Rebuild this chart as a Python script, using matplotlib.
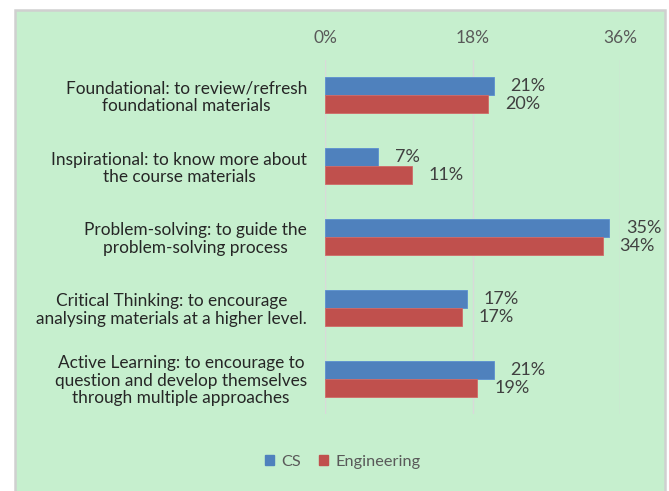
import matplotlib
matplotlib.use("Agg")
import matplotlib.pyplot as plt
from matplotlib.patches import Rectangle, Patch
import numpy as np

# data (percent)
categories = [
    "Foundational: to review/refresh\nfoundational materials",
    "Inspirational: to know more about\nthe course materials",
    "Problem-solving: to guide the\nproblem-solving process",
    "Critical Thinking: to encourage\nanalysing materials at a higher level.",
    "Active Learning: to encourage to\nquestion and develop themselves\nthrough multiple approaches",
]
cs = [20.6, 6.5, 34.7, 17.3, 20.6]
eng = [19.9, 10.6, 33.9, 16.7, 18.6]
cs_labels = ["21%", "7%", "35%", "17%", "21%"]
eng_labels = ["20%", "11%", "34%", "17%", "19%"]
xticks = [0, 18, 36]

plt.rcParams['font.family'] = ['Lato', 'DejaVu Sans']

BG = "#C6EFCE"
BLUE = "#4F81BD"
RED = "#C0504D"

fig = plt.figure(figsize=(6.69, 4.91), dpi=100)
fig.patch.set_facecolor("white")
# green chart area with grey frame
fig.patches.append(Rectangle((15/669, -0.05), 650/669, 1 - 10/491 + 0.05, transform=fig.transFigure,
                             facecolor=BG, edgecolor="#D0D0D0", linewidth=1.8, zorder=-5))

ax = fig.add_axes([325/669, 1 - 414/491, 295/669, 354/491])
ax.set_facecolor("none")

y = np.arange(len(categories))
h = 0.254
ax.barh(y - h/2, cs, height=h, color=BLUE, edgecolor="#5B8FD0", linewidth=0.6, label="CS", zorder=3)
ax.barh(y + h/2, eng, height=h, color=RED, edgecolor="#D06A67", linewidth=0.6, label="Engineering", zorder=3)

for i in range(len(categories)):
    ax.annotate(cs_labels[i], (cs[i], y[i] - h/2), xytext=(12, 0), textcoords="offset points",
                va="center", ha="left", fontsize=13, color="#404040")
    ax.annotate(eng_labels[i], (eng[i], y[i] + h/2), xytext=(12, 0), textcoords="offset points",
                va="center", ha="left", fontsize=13, color="#404040")

ax.set_xlim(0, 36)
ax.set_ylim(len(categories) - 0.5, -0.5)
ax.set_xticks(xticks)
ax.set_xticklabels([f"{t}%" for t in xticks])
ax.xaxis.tick_top()
ax.tick_params(axis="x", length=0, pad=10, labelsize=12.5, labelcolor="#595959")
ax.set_yticks(y)
ax.set_yticklabels(categories)
ax.tick_params(axis="y", length=0, pad=13, labelsize=12.4, labelcolor="#262626")
for lbl in ax.get_yticklabels():
    lbl.set_multialignment("center")
    lbl.set_linespacing(1.12)

ax.grid(axis="x", color="#D9D9D9", linewidth=1, zorder=0)
for s in ax.spines.values():
    s.set_visible(False)

handles = [Patch(color=BLUE, label="CS"), Patch(color=RED, label="Engineering")]
fig.legend(handles=handles, loc="center", bbox_to_anchor=(343/669, 1 - 462/491), ncol=2,
           frameon=False, fontsize=11.8, labelcolor="#595959", handlelength=0.55, handleheight=0.55,
           handletextpad=0.45, columnspacing=1.1)

fig.savefig("out.png", dpi=100, facecolor=fig.get_facecolor())
